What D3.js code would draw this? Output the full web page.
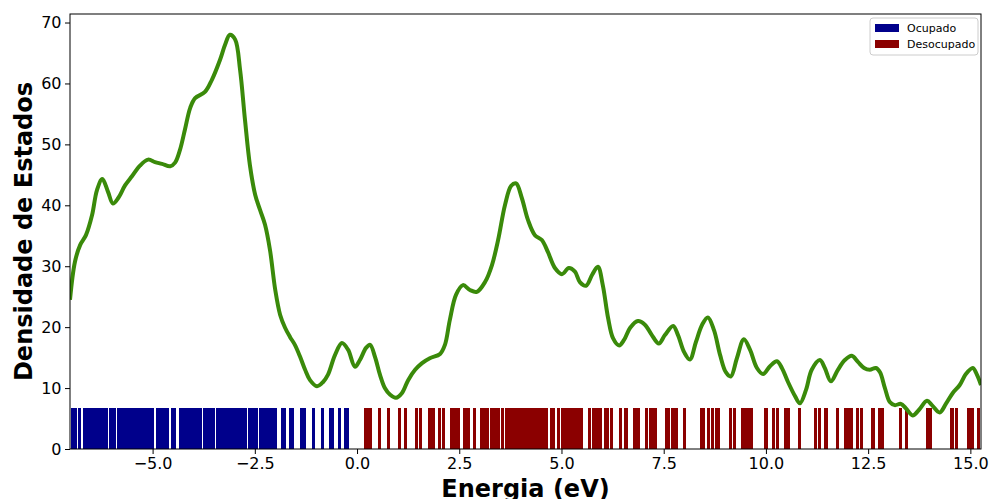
<!DOCTYPE html>
<html>
<head>
<meta charset="utf-8">
<script src="https://cdn.jsdelivr.net/npm/d3@7"></script>
<style>
  html, body { margin: 0; padding: 0; background: #fff; }
  svg { display: block; font-family: "DejaVu Sans", sans-serif; }
</style>
</head>
<body>
<svg id="chart" width="991" height="499"></svg>
<script>
// Density of states (broadened) sampled along the energy axis
const dosEnergy = [
  -7.02, -6.90, -6.77, -6.63, -6.48, -6.36, -6.23, -6.09, -5.97, -5.84,
  -5.67, -5.50, -5.31, -5.11, -4.94, -4.77, -4.57, -4.45, -4.33, -4.21,
  -4.08, -3.96, -3.72, -3.55, -3.35, -3.23, -3.11, -2.98, -2.86, -2.74,
  -2.62, -2.49, -2.37, -2.25, -2.13, -2.00, -1.88, -1.76, -1.64, -1.52,
  -1.39, -1.27, -1.15, -0.98, -0.83, -0.71, -0.54, -0.37, -0.22, -0.05,
  0.07, 0.22, 0.32, 0.44, 0.56, 0.68, 0.81, 0.95, 1.10, 1.25,
  1.42, 1.59, 1.78, 2.03, 2.15, 2.27, 2.42, 2.59, 2.76, 2.93,
  3.13, 3.30, 3.45, 3.62, 3.77, 3.89, 4.03, 4.18, 4.35, 4.52,
  4.67, 4.84, 5.01, 5.18, 5.33, 5.45, 5.60, 5.75, 5.89, 6.01,
  6.14, 6.26, 6.41, 6.53, 6.68, 6.87, 7.04, 7.21, 7.38, 7.53,
  7.73, 7.85, 8.00, 8.14, 8.29, 8.44, 8.58, 8.73, 8.88, 9.02,
  9.14, 9.29, 9.46, 9.61, 9.78, 9.93, 10.10, 10.27, 10.39, 10.54,
  10.71, 10.83, 10.98, 11.12, 11.32, 11.44, 11.59, 11.76, 11.93, 12.10,
  12.25, 12.40, 12.54, 12.69, 12.79, 12.91, 13.03, 13.15, 13.30, 13.42,
  13.59, 13.74, 13.94, 14.06, 14.25, 14.40, 14.57, 14.74, 14.89, 15.06,
  15.16, 15.26
];
const dosValues = [
  24.5, 30.7, 33.5, 35.1, 38.4, 42.5, 44.3, 42.2, 40.3, 41.2,
  43.3, 44.8, 46.5, 47.5, 47.1, 46.8, 46.4, 47.0, 49.1, 52.4,
  56.0, 57.6, 58.6, 60.6, 63.9, 66.3, 68.0, 67.2, 62.2, 54.0,
  46.6, 41.7, 39.2, 36.8, 32.7, 26.1, 22.0, 19.9, 18.4, 17.1,
  15.1, 13.0, 11.3, 10.3, 11.0, 12.2, 15.4, 17.4, 16.3, 13.5,
  14.6, 16.6, 17.1, 15.1, 12.2, 10.0, 8.9, 8.4, 9.2, 11.3,
  13.0, 14.1, 14.9, 15.6, 17.1, 21.2, 25.3, 26.9, 26.1, 25.8,
  27.4, 30.2, 34.3, 40.1, 43.2, 43.6, 41.2, 37.6, 35.1, 34.3,
  32.3, 29.7, 28.7, 29.7, 29.1, 27.4, 26.8, 28.6, 29.9, 26.9,
  21.5, 18.2, 17.0, 17.9, 19.9, 21.0, 20.4, 18.7, 17.3, 18.7,
  20.2, 18.7, 15.9, 14.7, 17.6, 20.4, 21.6, 19.5, 15.4, 12.6,
  11.9, 14.9, 18.0, 16.3, 13.3, 12.3, 13.6, 14.4, 13.3, 11.0,
  8.7, 7.5, 9.7, 13.0, 14.6, 13.3, 11.1, 13.0, 14.6, 15.3,
  14.3, 13.3, 13.0, 13.3, 12.6, 10.0, 7.7, 7.2, 7.4, 6.7,
  5.5, 6.4, 7.9, 7.2, 6.0, 7.4, 9.2, 10.5, 12.3, 13.3,
  12.2, 10.5
];

// Occupied levels (eV)
const occupiedLevels = [
  -6.96, -6.89, -6.78,
  -6.67, -6.61, -6.54, -6.47, -6.40, -6.33, -6.27, -6.20, -6.13,
  -6.04, -5.98, -5.93,
  -5.83, -5.76, -5.70, -5.63, -5.57, -5.50, -5.44, -5.37, -5.31, -5.24, -5.18,
  -5.12, -5.06, -5.01,
  -4.87, -4.81, -4.75, -4.69, -4.63,
  -4.51, -4.47,
  -4.32, -4.25, -4.18, -4.11, -4.04, -3.97, -3.90, -3.83,
  -3.74, -3.68, -3.62, -3.57, -3.51,
  -3.41, -3.35, -3.28, -3.21, -3.14, -3.07, -3.01, -2.94, -2.87, -2.80, -2.73,
  -2.64, -2.58, -2.51, -2.45,
  -2.35, -2.28, -2.21, -2.14, -2.07, -2.00,
  -1.82, -1.77,
  -1.63, -1.57,
  -1.36, -1.28,
  -1.06,
  -0.84,
  -0.65, -0.60,
  -0.43,
  -0.28, -0.23
];

// Unoccupied levels (eV)
const unoccupiedLevels = [
  0.21, 0.27, 0.33, 0.54, 0.77, 1.03, 1.18, 1.45, 1.55,
  1.77, 1.82, 1.87, 2.01, 2.12, 2.31, 2.34, 2.42, 2.48,
  2.63, 2.67, 2.72, 2.87, 3.04, 3.11, 3.18,
  3.29, 3.35, 3.41, 3.47, 3.56,
  3.66, 3.73, 3.80, 3.87, 3.93, 4.00, 4.07, 4.14,
  4.23, 4.30, 4.36, 4.43, 4.50, 4.56, 4.63,
  4.75, 4.81, 4.92,
  5.02, 5.08, 5.15, 5.22, 5.28, 5.35, 5.42, 5.48,
  5.69, 5.78, 5.84, 5.90, 5.96, 6.07, 6.12, 6.22,
  6.44, 6.56, 6.59, 6.78, 6.83, 6.89,
  7.07, 7.17, 7.24, 7.30, 7.57, 7.62, 7.71, 7.76, 7.81, 8.00,
  8.42, 8.47, 8.59, 8.69, 8.80, 8.84,
  9.13, 9.23, 9.44, 9.48, 9.56, 9.61, 9.65,
  9.99, 10.02, 10.18, 10.29, 10.47, 10.55, 10.81,
  11.21, 11.32, 11.47, 11.75, 11.95, 12.01, 12.05, 12.10,
  12.23, 12.34, 12.60, 12.63, 12.77, 12.82, 12.85,
  13.29, 13.44, 13.95, 13.99, 14.03,
  14.53, 14.56, 14.67, 14.95, 15.00, 15.05, 15.20
];

const xTicks = [-5.0, -2.5, 0.0, 2.5, 5.0, 7.5, 10.0, 12.5, 15.0];
const yTicks = [0, 10, 20, 30, 40, 50, 60, 70];
const legendLabels = ["Ocupado", "Desocupado"];
const xLabel = "Energia (eV)";
const yLabel = "Densidade de Estados";

const W = 991, H = 499;
const margin = { top: 14, right: 10, bottom: 50, left: 70 };
const iw = W - margin.left - margin.right;
const ih = H - margin.top - margin.bottom;

const colors = { occ: "#00008b", unocc: "#8b0000", line: "#3a8a0a" };
const levelWidth = 0.075;             // eV
const dosMax = d3.max(dosValues);
const levelHeight = 0.1 * dosMax;     // marker height in DOS units

const svg = d3.select("#chart");
const g = svg.append("g").attr("transform", `translate(${margin.left},${margin.top})`);

const x = d3.scaleLinear().domain([-7.02, 15.26]).range([0, iw]);
const y = d3.scaleLinear().domain([0, dosMax * 1.05]).range([ih, 0]);

// clip everything to the axes box
svg.append("defs").append("clipPath").attr("id", "plotClip")
  .append("rect").attr("width", iw).attr("height", ih);
const plot = g.append("g").attr("clip-path", "url(#plotClip)");

function drawLevels(levels, color) {
  plot.append("g").attr("shape-rendering", "crispEdges")
    .selectAll("rect").data(levels).join("rect")
    .attr("x", d => x(d - levelWidth / 2))
    .attr("width", d => x(d + levelWidth / 2) - x(d - levelWidth / 2))
    .attr("y", y(levelHeight))
    .attr("height", y(0) - y(levelHeight))
    .attr("fill", color);
}
drawLevels(occupiedLevels, colors.occ);
drawLevels(unoccupiedLevels, colors.unocc);

const dos = dosEnergy.map((e, i) => [e, dosValues[i]]);
plot.append("path")
  .datum(dos)
  .attr("fill", "none")
  .attr("stroke", colors.line)
  .attr("stroke-width", 4)
  .attr("stroke-linejoin", "round")
  .attr("d", d3.line().x(d => x(d[0])).y(d => y(d[1])).curve(d3.curveCatmullRom.alpha(0.5)));

// axes
const fmtX = d => d3.format(".1f")(d).replace("-", "\u2212");
const xAxis = g.append("g").attr("transform", `translate(0,${ih})`)
  .call(d3.axisBottom(x).tickValues(xTicks).tickFormat(fmtX).tickSize(5).tickPadding(3.5));
const yAxis = g.append("g")
  .call(d3.axisLeft(y).tickValues(yTicks).tickFormat(d3.format("d")).tickSize(5).tickPadding(3.5));
[xAxis, yAxis].forEach(a => {
  a.select(".domain").remove();
  a.selectAll("line").attr("stroke", "#000").attr("stroke-width", 1);
  a.selectAll("text").attr("font-size", 16).attr("fill", "#000")
    .attr("font-family", "DejaVu Sans, sans-serif");
});

// frame
g.append("rect").attr("width", iw).attr("height", ih)
  .attr("fill", "none").attr("stroke", "#000").attr("stroke-width", 1);

// axis titles
svg.append("text")
  .attr("x", margin.left + iw / 2).attr("y", 497)
  .attr("text-anchor", "middle")
  .attr("font-size", 24).attr("font-weight", "bold")
  .text(xLabel);
svg.append("text")
  .attr("transform", `translate(32,${margin.top + ih / 2}) rotate(-90)`)
  .attr("text-anchor", "middle")
  .attr("font-size", 24).attr("font-weight", "bold")
  .text(yLabel);

// legend
const lg = g.append("g").attr("transform", `translate(${iw - 111},4)`);
lg.append("rect").attr("width", 108).attr("height", 37).attr("rx", 3)
  .attr("fill", "#fff").attr("fill-opacity", 0.8)
  .attr("stroke", "#cccccc").attr("stroke-width", 1);
legendLabels.forEach((lab, i) => {
  const row = lg.append("g").attr("transform", `translate(5,${6 + i * 16})`);
  row.append("rect").attr("width", 24).attr("height", 8)
    .attr("fill", i === 0 ? colors.occ : colors.unocc);
  row.append("text").attr("x", 32).attr("y", 4).attr("dy", "0.35em")
    .attr("font-size", 11).text(lab);
});
</script>
</body>
</html>
